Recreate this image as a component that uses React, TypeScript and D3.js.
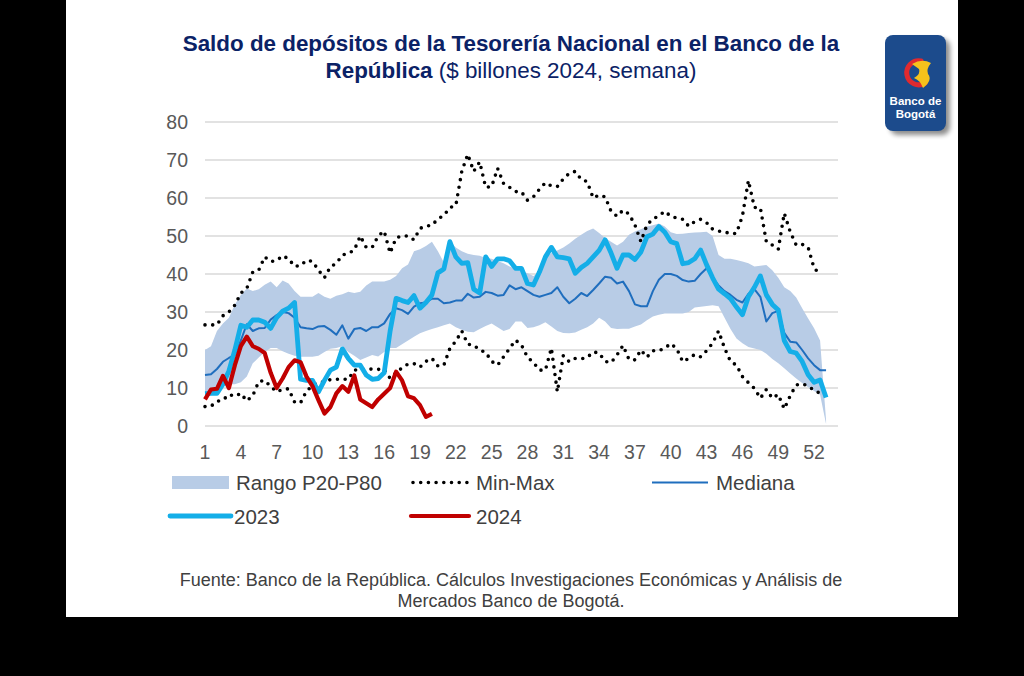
import React from "react";
import * as d3 from "d3";

// ---- data (weeks 1..53, step 0.5 week) ----
const WEEK_START = 1;
const WEEK_STEP = 0.5;

const xTickLabels = [1, 4, 7, 10, 13, 16, 19, 22, 25, 28, 31, 34, 37, 40, 43, 46, 49, 52];
const yTickLabels = [0, 10, 20, 30, 40, 50, 60, 70, 80];

const bandUpper = [
  20, 21, 25, 27, 28.5, 32, 34.5, 36.2, 35.5, 36,
  37.2, 38, 36.5, 38.3, 37.5, 35.5, 34, 34, 34, 35,
  34, 33.5, 34.3, 34.7, 35.3, 35, 35.3, 37, 38, 38,
  38, 38.5, 39.5, 41.5, 42.5, 46, 46.5, 47.4, 48.5, 46,
  43, 48.5, 47, 46, 45.3, 45, 44.8, 44.2, 44, 43.4,
  42.8, 42, 41.3, 40.8, 40.2, 39.5, 40.5, 44.5, 45.5, 46.2,
  47, 48, 49.3, 50.3, 51.3, 52, 50.8, 49.5, 48.5, 47.5,
  48.5, 50.3, 51.2, 51.8, 52.5, 52.8, 53.3, 52.5, 51, 50.5,
  50.6, 50.8, 50.9, 51, 51.1, 50, 45, 44, 44, 43.7,
  43.3, 42.8, 42, 42.2, 42.4, 41, 39, 36.5, 35.5, 33.8,
  31, 28.3, 25.7, 22.5, 1.5,
];

const bandLower = [
  7.5, 8, 9, 10.5, 11, 11, 11.5, 13, 16.5, 18,
  19.5, 20.5, 20.5, 19.7, 19, 18.5, 18.2, 18.2, 18.2, 18.5,
  19.5, 20.3, 20.5, 21, 19.5, 18.5, 17.4, 18, 18.7, 18.3,
  19.5, 20.5, 20.5, 21.5, 22.5, 23.5, 24.4, 25, 25.5, 26,
  26.5, 27, 26, 25.3, 24.8, 24.7, 25.5, 26.3, 27, 26,
  25, 25.5, 27.5, 27.5, 25.8, 26, 26.5, 27.3, 26.2, 25,
  24.5, 24.4, 24.6, 25.3, 26, 27, 28.5, 27.5, 25.8, 25.5,
  25.6, 25.6, 26.2, 26.7, 27.8, 28.8, 29.3, 29.6, 29.6, 29.6,
  29.6, 30, 31.2, 31.4, 31.6, 31.8, 31.5, 28.5, 25.5, 23,
  21.8, 20.8, 20.4, 20, 19, 17.6, 16.5, 15.2, 13.8, 12.5,
  11.3, 10.2, 9.2, 8.2, 0.5,
];

const median = [
  13.4, 13.6, 15, 16.9, 17.9, 18.7, 22.5, 26.8, 25, 25.7,
  25.8, 28, 29.2, 30, 29.7, 28.5, 26, 25.7, 25.5, 26.2,
  26.3, 25.3, 24, 26.5, 23, 25.5, 25.8, 25, 26, 26,
  27, 29.5, 31, 30.5, 29.5, 31.4, 32.3, 32.5, 33.5, 33.5,
  32.3, 32.5, 33, 33, 34.8, 33.8, 34, 35.3, 35, 34.3,
  34.5, 37, 36, 36.5, 35.5, 34.5, 34, 34.5, 35, 36.5,
  34, 32.3, 33.5, 35, 34.2, 35.8, 37.5, 39.3, 39, 37.5,
  38, 35.5, 32, 31.5, 31.5, 35.5, 38.5, 40, 40, 39.5,
  38.4, 38, 38.2, 40, 41.5, 39, 37, 35.5, 34.5, 33.2,
  32.5, 34.8, 36, 34, 27.5, 29.7, 30.3, 24.5, 22.2, 22,
  20, 17.8, 16, 14.7, 14.7,
];

const year2023 = [
  8.5, 8.6, 8.6, 11, 14.5, 20, 26.5, 26, 27.9, 27.9,
  27.3, 25.7, 28.5, 30.2, 31, 32.5, 12.3, 12, 12, 9,
  12, 14.7, 15.5, 20.3, 17.8, 16, 16, 13.4, 12.3, 12.5,
  14, 25, 33.6, 33, 32.5, 34.3, 31, 32.5, 34.5, 40.3,
  41.3, 48.5, 44.5, 42.8, 43, 36, 35, 44.5, 42, 44,
  44, 43.5, 41.5, 41.5, 37.5, 37.1, 40.5, 44.5, 47, 44.5,
  44.3, 44, 40.2, 41.7, 42.8, 44.5, 46.2, 49, 45.5, 41.5,
  45, 45, 43.8, 45.8, 49.8, 50.5, 52.5, 51, 48.5, 48,
  42.7, 43, 44, 46.3, 42.4, 39, 36, 34.8, 33.5, 31.3,
  29.3, 34, 36.5, 39.5, 34.5, 32, 30.5, 22.5, 19.6, 19.2,
  17, 13.5, 11.5, 12.1, 7.5,
];

const year2024 = [
  7, 9.6, 9.8, 13.2, 10, 16, 21, 23.5, 21, 20.3,
  19.2, 14, 10, 12.5, 15.5, 17.3, 16.8, 13, 10.5, 6.8,
  3.3, 5, 8.6, 10.5, 9, 13.3, 7, 6, 5, 7,
  8.5, 10, 14.3, 12, 7.8, 7.3, 5.5, 2.4, 3.2,
];

const maxSeries = [
  26.6, 26.6, 26.6, 29, 30, 31.8, 35, 36.2, 40.5, 41,
  44.5, 43.3, 43.5, 44.8, 44, 42, 42.2, 43.6, 43.3, 41,
  39, 41.9, 42.8, 45, 45.4, 46.3, 50, 47, 47, 50,
  51.3, 45.5, 49.5, 50, 50, 49, 52, 52.6, 52.8, 54.5,
  55.4, 57.5, 58, 67, 71.5, 67, 69.5, 62.8, 63, 67.8,
  63.8, 62.8, 61.7, 61.6, 59.4, 60.3, 62.3, 64, 63.2, 63,
  65, 66.5, 67, 64.9, 64.3, 60, 60.8, 60.3, 56.5, 55.2,
  56.8, 55.8, 52.9, 48.5, 52.9, 54.5, 55.3, 56.5, 55.2, 54.7,
  54.4, 52.6, 53.8, 54.4, 53.5, 51.8, 51.3, 51.1, 50.6, 50.7,
  55.3, 64.6, 57.5, 57.4, 48.5, 47.6, 46.5, 56, 51.1, 47.6,
  47.8, 47, 41.5, 40,
];

const minSeries = [
  5.1, 5.2, 6.5, 6.8, 8.3, 7.8, 8.6, 6.6, 8, 11.7,
  12, 10.4, 9, 9.6, 9.8, 6.3, 6.1, 9.2, 10.6, 11.5,
  11.6, 12.2, 12.3, 12.3, 12.3, 14.7, 14.9, 14.9, 15, 14.9,
  15, 12.5, 14, 15.3, 16.3, 16.4, 15.5, 17, 17.8, 15.8,
  16, 20.4, 22.3, 25, 21.5, 21.3, 20, 19.4, 17, 16,
  18.2, 20.4, 22.6, 21.3, 18.1, 16.7, 14.7, 14.7, 20.5, 9,
  18.5, 16.9, 17.8, 17.7, 18, 19.5, 19.2, 17, 16.7, 18.7,
  21.2, 17.5, 17.4, 20, 18.1, 19.8, 19.8, 20.5, 21.7, 20.3,
  16.9, 17.8, 18.8, 18.2, 19.8, 21.8, 25, 20.5, 17, 16,
  13, 11.4, 9.9, 7.3, 9.6, 7.3, 8.3, 4.5, 8, 10.8,
  11.1, 10.5, 9.4, 8.6,
];

const legendLabels = ["Rango P20-P80", "Min-Max", "Mediana", "2023", "2024"];

const FONT = "'Liberation Sans', Arial, sans-serif";
const C_BAND = "#B8CCE6";
const C_MED = "#1F6EBE";
const C_2023 = "#14AEE8";
const C_2024 = "#C00000";
const C_TEXT = "#595959";
const DOT = "0 7.7";

const wk = (i: number) => WEEK_START + i * WEEK_STEP;

export default function App() {
  const x = d3.scaleLinear().domain([1, 54]).range([205, 838]);
  const y = d3.scaleLinear().domain([0, 80]).range([426, 122]);

  const area = d3
    .area<number>()
    .x((_, i) => x(wk(i)))
    .y0((_, i) => y(bandLower[i]))
    .y1((d) => y(d));
  const line = d3
    .line<number>()
    .x((_, i) => x(wk(i)))
    .y((d) => y(d));

  return (
    <svg
      width={1024}
      height={676}
      style={{ position: "absolute", left: 0, top: 0, display: "block" }}
      fontFamily={FONT}
    >
      <defs>
        <filter id="sh" x="-30%" y="-30%" width="160%" height="160%">
          <feGaussianBlur stdDeviation="2.5" />
        </filter>
        <clipPath id="plotclip">
          <rect x={200} y={100} width={640} height={330} />
        </clipPath>
      </defs>
      <rect x={0} y={0} width={1024} height={676} fill="#000" />
      <rect x={66} y={0} width={892} height={617} fill="#fff" />

      {/* title */}
      <text x={511} y={51} textAnchor="middle" fontSize={22.4} fontWeight="bold" fill="#0B2266">
        Saldo de depósitos de la Tesorería Nacional en el Banco de la
      </text>
      <text x={511} y={78} textAnchor="middle" fontSize={22.4} fill="#0B2266">
        <tspan fontWeight="bold">República</tspan>
        <tspan> ($ billones 2024, semana)</tspan>
      </text>

      {/* logo */}
      <rect x={890} y={39} width={60} height={96} rx={8} fill="#000" opacity={0.45} filter="url(#sh)" />
      <rect x={885} y={35} width={61} height={96} rx={8} fill="#1C4B8C" />
      <path
        d="M 921 61 A 12 12 0 1 0 925 83"
        fill="none"
        stroke="#E02A2F"
        strokeWidth={5}
        strokeLinecap="round"
      />
      <path d="M 912 64 Q 922 58 931 63 Q 926 69 928 74 Q 933 80 923 88 Q 920 80 914 78 Q 921 74 919 69 Z" fill="#F6C21C" />
      <text x={915.5} y={105} textAnchor="middle" fontSize={11.5} fontWeight="bold" fill="#fff">
        Banco de
      </text>
      <text x={915.5} y={118} textAnchor="middle" fontSize={11.5} fontWeight="bold" fill="#fff">
        Bogotá
      </text>

      {/* grid + y labels */}
      {yTickLabels.map((v) => (
        <g key={v}>
          <line x1={205} x2={838} y1={y(v)} y2={y(v)} stroke="#D9D9D9" strokeWidth={1.5} />
          <text x={188} y={y(v) + 7} textAnchor="end" fontSize={19.5} fill={C_TEXT}>
            {v}
          </text>
        </g>
      ))}
      {xTickLabels.map((w) => (
        <text key={w} x={x(w)} y={459} textAnchor="middle" fontSize={19.5} fill={C_TEXT}>
          {w}
        </text>
      ))}

      <g clipPath="url(#plotclip)">
        <path d={area(bandUpper) || ""} fill={C_BAND} />
        <path d={line(maxSeries) || ""} fill="none" stroke="#000" strokeWidth={3.6} strokeDasharray={DOT} strokeLinecap="round" />
        <path d={line(minSeries) || ""} fill="none" stroke="#000" strokeWidth={3.6} strokeDasharray={DOT} strokeLinecap="round" />
        <path d={line(median) || ""} fill="none" stroke={C_MED} strokeWidth={2} strokeLinejoin="round" />
        <path d={line(year2023) || ""} fill="none" stroke={C_2023} strokeWidth={4.8} strokeLinejoin="round" />
        <path d={line(year2024) || ""} fill="none" stroke={C_2024} strokeWidth={4.2} strokeLinejoin="round" />
      </g>

      {/* legend */}
      <g fontSize={20.5} fill="#404040">
        <rect x={172} y={476} width={57} height={13} fill={C_BAND} />
        <text x={236} y={490}>{legendLabels[0]}</text>
        <line x1={413} x2={468} y1={482.5} y2={482.5} stroke="#000" strokeWidth={3.6} strokeDasharray={DOT} strokeLinecap="round" />
        <text x={476} y={490}>{legendLabels[1]}</text>
        <line x1={652} x2={708} y1={482.5} y2={482.5} stroke={C_MED} strokeWidth={2} />
        <text x={716} y={490}>{legendLabels[2]}</text>
        <line x1={170} x2={231} y1={516} y2={516} stroke={C_2023} strokeWidth={4.8} strokeLinecap="round" />
        <text x={234} y={524}>{legendLabels[3]}</text>
        <line x1={411} x2={469} y1={516} y2={516} stroke={C_2024} strokeWidth={4.2} strokeLinecap="round" />
        <text x={476} y={524}>{legendLabels[4]}</text>
      </g>

      {/* source */}
      <text x={511} y={586} textAnchor="middle" fontSize={18} fill="#404040">
        Fuente: Banco de la República. Cálculos Investigaciones Económicas y Análisis de
      </text>
      <text x={511} y={607} textAnchor="middle" fontSize={18} fill="#404040">
        Mercados Banco de Bogotá.
      </text>
    </svg>
  );
}
